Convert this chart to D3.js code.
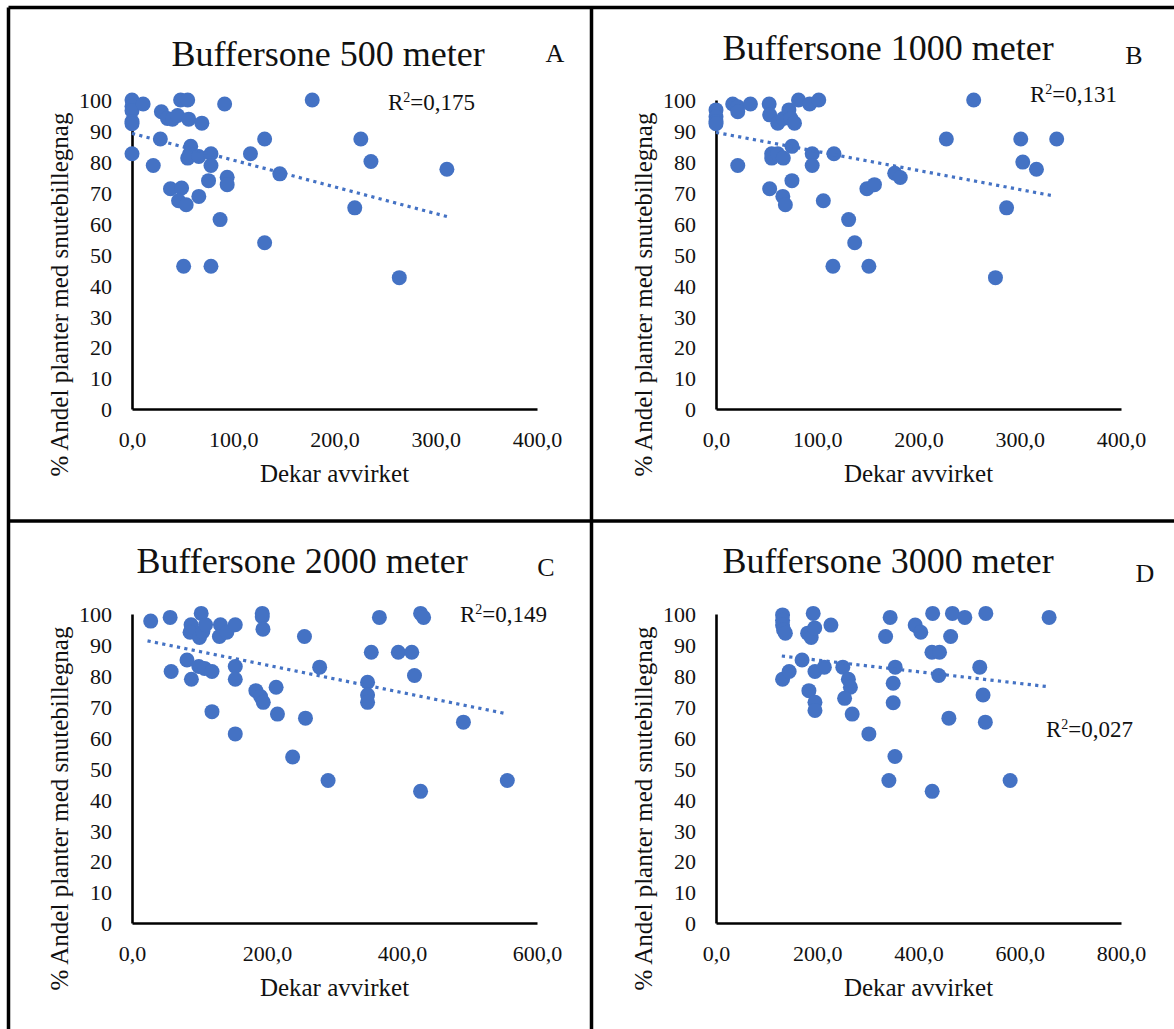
<!DOCTYPE html>
<html>
<head>
<meta charset="utf-8">
<script src="https://cdn.jsdelivr.net/npm/d3@7"></script>
<style>
  html, body { margin: 0; padding: 0; background: #fff; }
  svg { display: block; }
  svg text { font-family: "Liberation Serif", "Times New Roman", serif !important; fill: #111; }
</style>
</head>
<body>
<svg id="chart" width="1174" height="1029"></svg>
<script>
/* Buffersone scatter panels A-D */

// panel A: 500 m  [dekar avvirket, % andel]
const ptsA = [
  [0, 100], [0, 98], [0, 96.5], [0, 93], [0, 92.3], [11, 98.7], [0, 82.6], [21, 78.8],
  [28, 87.4], [29, 96.2], [35, 94], [40, 93.8], [45, 95], [48, 100], [55, 100], [56, 93.8],
  [69, 92.5], [91.5, 98.7], [178, 100], [38, 71.3], [49, 71.5], [46, 67.4], [53.5, 66.1],
  [66, 68.8], [58, 85], [57, 82.6], [55, 81.2], [66, 81.7], [78, 82.6], [78, 78.8],
  [75.6, 73.9], [94, 75], [94, 72.6], [87, 61.3], [117, 82.6], [131, 87.4], [146, 76.1],
  [131, 53.8], [51, 46.2], [78, 46.2], [226, 87.4], [236, 80.1], [220, 65.1], [264, 42.5],
  [311, 77.6]
];
// panel B: 1000 m
const ptsB = [
  [0, 96.8], [0, 94.6], [0, 93], [0, 92.3], [16.5, 98.7], [21.5, 97.8], [21.5, 96.2],
  [34, 98.7], [52.5, 98.7], [53, 95.2], [61, 92.5], [66.5, 94], [72, 96.8], [74, 94],
  [77.5, 92.5], [81.5, 100], [92.5, 98.7], [101.5, 100], [254.5, 100], [21.5, 78.8],
  [55, 82.6], [55, 81.2], [61, 82.6], [66.5, 81.2], [75, 85], [75, 73.9], [95, 82.6],
  [95, 78.8], [116.5, 82.6], [53, 71.3], [66, 68.8], [68.5, 66.1], [106, 67.4], [131, 61.3],
  [137, 53.8], [115.5, 46.2], [151, 46.2], [149, 71.3], [156.5, 72.6], [176.5, 76.3],
  [182, 74.9], [227.5, 87.4], [301, 87.4], [303, 79.9], [316.5, 77.6], [336.5, 87.4],
  [287, 65.1], [276, 42.5]
];
// panel C: 2000 m
const ptsC = [
  [27.7, 97.7], [56.5, 98.9], [102.5, 100.2], [87.5, 96.5], [86, 94.1], [100, 92.4],
  [105, 94.3], [109, 96.5], [131, 96.5], [129.5, 92.7], [140.5, 94.1], [153, 96.5],
  [193, 100.2], [193, 99.1], [194, 95.1], [255.5, 92.7], [366.5, 98.9], [427.5, 100.2],
  [432, 98.9], [81.5, 85.1], [58, 81.4], [88, 78.9], [99, 83], [107.5, 82.4], [118.5, 81.4],
  [153, 83], [153, 78.9], [118.5, 68.4], [153, 61.2], [183.5, 75.2], [190.5, 73.3],
  [194.5, 71.4], [213.5, 76.3], [215.5, 67.6], [257, 66.3], [278, 82.8], [238, 53.7],
  [290.5, 46.1], [354.5, 87.6], [349, 77.9], [349, 73.8], [349, 71.4], [394.5, 87.6],
  [414.5, 87.6], [418.5, 80.1], [427.5, 42.6], [491, 65], [556, 46.1]
];
// panel D: 3000 m
const ptsD = [
  [131.5, 99.7], [131.5, 98], [131.5, 96.4], [133.5, 94.8], [137, 93.8], [181, 93.8],
  [192, 100.2], [188, 92.4], [195, 95.5], [227, 96.4], [335, 92.7], [344, 98.9],
  [393.5, 96.4], [404.5, 94.1], [428, 100.2], [467, 100.2], [491.5, 98.9], [533, 100.2],
  [658, 98.9], [463.5, 92.7], [426.5, 87.6], [441.5, 87.6], [170, 85.1], [131.5, 78.9],
  [144.5, 81.4], [195.5, 81.4], [214, 82.8], [250.5, 82.8], [261.5, 78.9], [265.5, 76.3],
  [183.5, 75.2], [195.5, 71.4], [195.5, 68.8], [254, 72.7], [269, 67.6], [302, 61.2],
  [353.5, 53.9], [341.5, 46.1], [427, 42.6], [350, 77.6], [350, 71.3], [354, 82.8],
  [440, 80.1], [460, 66.3], [521, 82.8], [527.5, 73.8], [532, 65], [581, 46.1]
];

// linear trend lines (start, end)
const trendA = [[0, 89.2], [312, 62.2]];
const trendB = [[0, 89.5], [333, 69]];
const trendC = [[23, 91.3], [555, 67.7]];
const trendD = [[130, 86.4], [655, 76.5]];

const titles = ['Buffersone 500 meter', 'Buffersone 1000 meter', 'Buffersone 2000 meter', 'Buffersone 3000 meter'];
const letters = ['A', 'B', 'C', 'D'];
const r2Values = ['0,175', '0,131', '0,149', '0,027'];
const xMax = [400, 400, 600, 800];
const xStep = [100, 100, 200, 200];
const yTicks = [0, 10, 20, 30, 40, 50, 60, 70, 80, 90, 100];

const BLUE = '#4472C4';
const SERIF = '"Liberation Serif", "Times New Roman", serif';
const svg = d3.select('#chart');

// layout per panel
const panels = [
  { pts: ptsA, trend: trendA, ox: 0, oy: 0, titleX: 328, titleY: 66, letX: 555, letY: 62, r2X: 388, r2Y: 110, labX: 68 },
  { pts: ptsB, trend: trendB, ox: 584, oy: 0, titleX: 888, titleY: 60, letX: 1134, letY: 64, r2X: 1030, r2Y: 102, labX: 652 },
  { pts: ptsC, trend: trendC, ox: 0, oy: 514, titleX: 302, titleY: 573, letX: 546, letY: 576, r2X: 460, r2Y: 622, labX: 68 },
  { pts: ptsD, trend: trendD, ox: 584, oy: 514, titleX: 888, titleY: 573, letX: 1145, letY: 582, r2X: 1046, r2Y: 737, labX: 652 }
];

panels.forEach((p, i) => {
  const left = 132 + p.ox, right = 537 + p.ox;
  const top = 100 + p.oy, bottom = 409 + p.oy;
  const x = d3.scaleLinear().domain([0, xMax[i]]).range([left, right]);
  const y = d3.scaleLinear().domain([0, 100]).range([bottom, top]);
  const g = svg.append('g').attr('font-family', SERIF);

  // title + letter
  g.append('text').attr('x', p.titleX).attr('y', p.titleY).attr('text-anchor', 'middle')
    .style('font-size', '36px').text(titles[i]);
  g.append('text').attr('x', p.letX).attr('y', p.letY).attr('text-anchor', 'middle')
    .style('font-size', '26px').text(letters[i]);

  // axes
  const xa = g.append('g').attr('transform', `translate(0,${bottom})`)
    .call(d3.axisBottom(x).tickValues(d3.range(0, xMax[i] + 1, xStep[i])).tickSize(0).tickPadding(22)
      .tickFormat(d => d.toFixed(1).replace('.', ',')));
  const ya = g.append('g').attr('transform', `translate(${left},0)`)
    .call(d3.axisLeft(y).tickValues(yTicks).tickSize(0).tickPadding(20));
  [xa, ya].forEach(a => {
    a.attr('font-family', SERIF).attr('font-size', 22);
    a.select('.domain').attr('stroke', '#000').attr('stroke-width', 2.6);
  });
  ya.selectAll('text').attr('dy', '0.35em');

  // axis titles
  g.append('text').attr('x', (left + right) / 2).attr('y', bottom + 73).attr('text-anchor', 'middle')
    .style('font-size', '25px').text('Dekar avvirket');
  g.append('text').attr('transform', `translate(${p.labX},${(top + bottom) / 2 + 40}) rotate(-90)`)
    .attr('text-anchor', 'middle').style('font-size', '25px')
    .text('% Andel planter med snutebillegnag');

  // points
  g.append('g').selectAll('circle').data(p.pts).enter().append('circle')
    .attr('cx', d => x(d[0])).attr('cy', d => y(d[1])).attr('r', 7.5).attr('fill', BLUE);

  // trend line (dotted)
  g.append('path').datum(p.trend)
    .attr('d', d3.line().x(d => x(d[0])).y(d => y(d[1])))
    .attr('fill', 'none').attr('stroke', BLUE).attr('stroke-width', 3.2)
    .attr('stroke-dasharray', '3.2,4.3');

  // R2 label
  const t = g.append('text').attr('x', p.r2X).attr('y', p.r2Y).style('font-size', '23px');
  t.append('tspan').text('R');
  t.append('tspan').attr('dy', '-8').style('font-size', '14px').text('2');
  t.append('tspan').attr('dy', '8').text('=' + r2Values[i]);
});

// frame lines
const frame = [
  [[8.5, 7.5], [1174, 7.5]],
  [[8.5, 7.5], [8.5, 1029]],
  [[591.5, 7.5], [591.5, 1029]],
  [[8.5, 521], [1174, 521]]
];
svg.append('g').selectAll('line').data(frame).enter().append('line')
  .attr('x1', d => d[0][0]).attr('y1', d => d[0][1]).attr('x2', d => d[1][0]).attr('y2', d => d[1][1])
  .attr('stroke', '#000').attr('stroke-width', 3.5);
</script>
</body>
</html>
